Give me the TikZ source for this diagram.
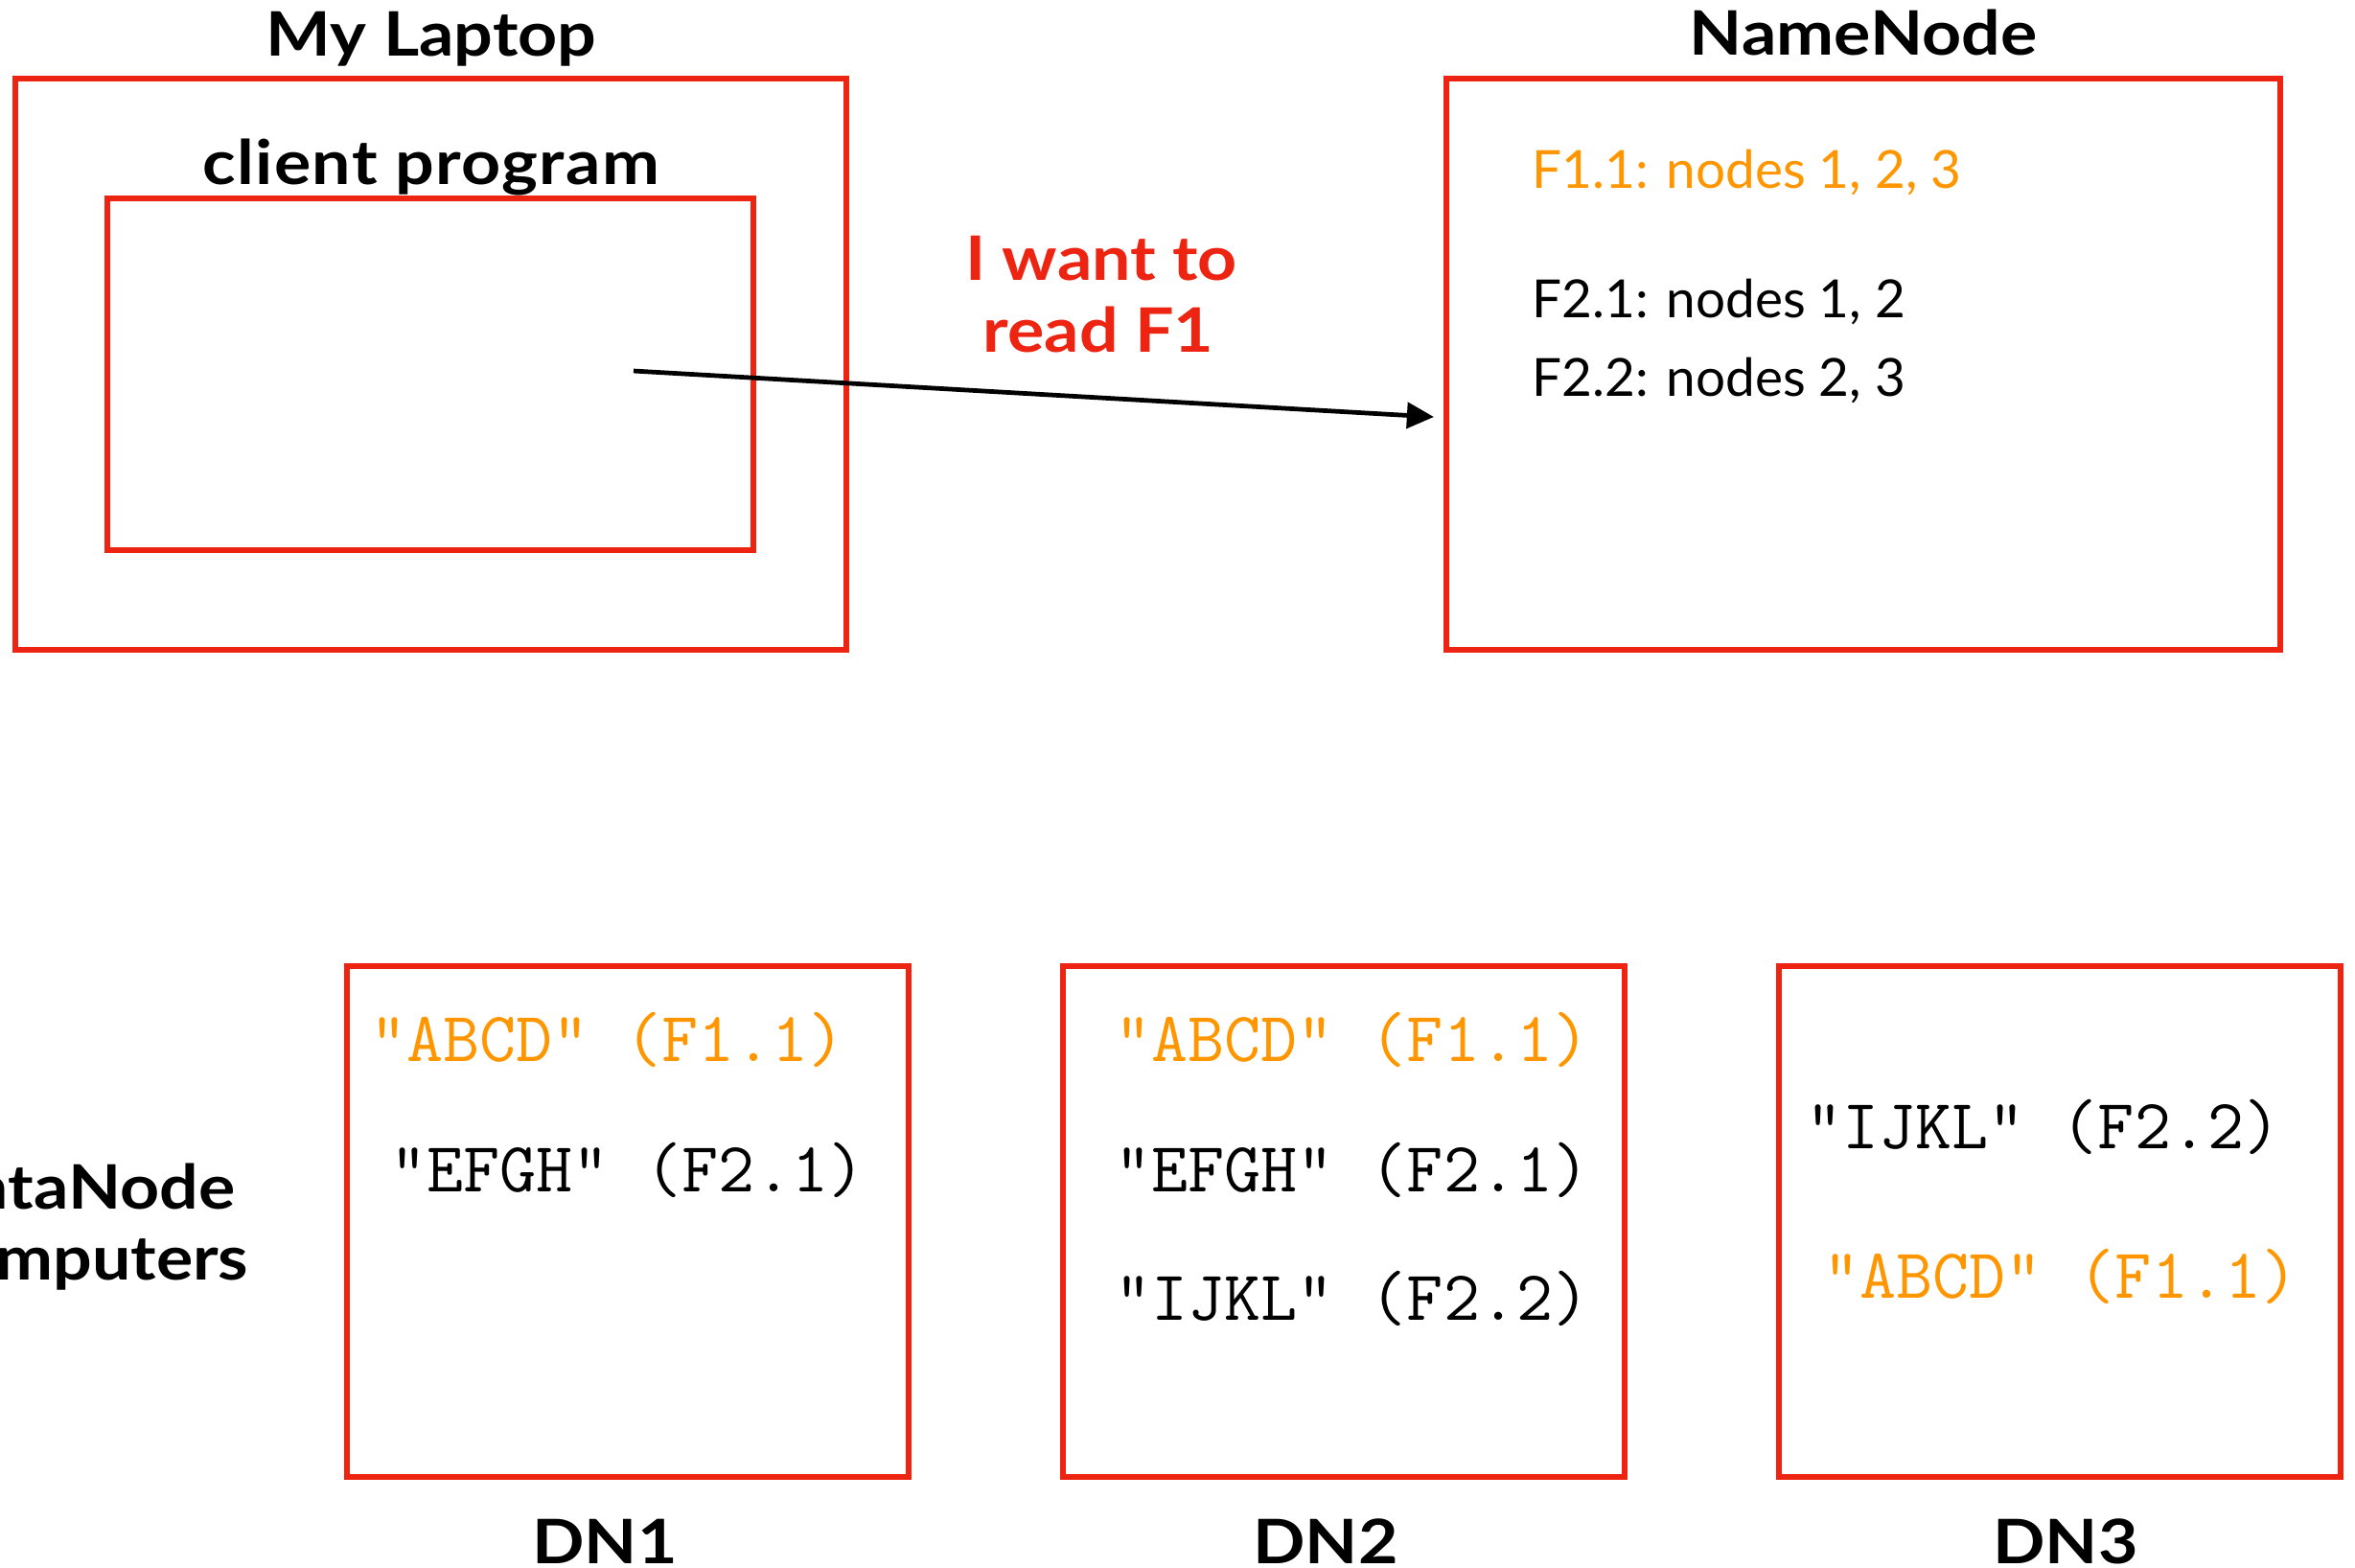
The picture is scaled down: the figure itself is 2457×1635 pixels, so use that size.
\documentclass[tikz,border=0pt]{standalone}
\usepackage{fontspec}
\setmainfont{Lato}
\newfontfamily\titlefont[FakeStretch=1.12]{Lato}
\usetikzlibrary{arrows.meta}
\definecolor{boxred}{RGB}{238,36,18}
\definecolor{hlorange}{RGB}{255,150,0}
\begin{document}
\begin{tikzpicture}[x=0.01cm,y=-0.01cm,
  box/.style={draw=boxred, line width=1.7pt, inner sep=0pt, outer sep=0pt, anchor=north west},
  title/.style={font=\titlefont\bfseries\fontsize{18.2}{21}\selectfont, inner sep=0pt, anchor=base},
  nnline/.style={font=\fontsize{15.6}{18}\selectfont, inner sep=0pt, anchor=base west},
  dnline/.style={font=\ttfamily\fontsize{21}{24}\selectfont, inner sep=0pt, anchor=base west},
  reqarrow/.style={-{Triangle[length=8pt,width=7.6pt]}, line width=1.35pt}
]
\useasboundingbox (0,0) rectangle (2457,1635);

% Laptop
\node[box, minimum width=8.66cm, minimum height=5.96cm] (laptop) at (16,82) {};
\node[box, minimum width=6.74cm, minimum height=3.67cm] (client) at (112,207) {};
\node[title] (laptoptitle) at (450,58) {My Laptop};
\node[title] (clienttitle) at (450,192) {\addfontfeature{LetterSpace=2}client program};

% NameNode
\node[box, minimum width=8.69cm, minimum height=5.96cm] (namenode) at (1509,82) {};
\node[title] (nntitle) at (1944,57) {NameNode};
\node[nnline, text=hlorange] (nn1) at (1598,196) {F1.1: nodes 1, 2, 3};
\node[nnline] (nn2) at (1598,331) {F2.1: nodes 1, 2};
\node[nnline] (nn3) at (1598,413) {F2.2: nodes 2, 3};

% request
\node[title, text=boxred] (want1) at (1149,292) {I want to};
\node[title, text=boxred] (want2) at (1146,367) {read F1};
\coordinate (reqstart) at (661,387);
\coordinate (reqend) at (1496,435);
\draw[reqarrow] (reqstart) -- (reqend);

% DataNodes
\node[title, anchor=base east] (dnlabel1) at (246,1261) {DataNode};
\node[title, anchor=base east] (dnlabel2) at (260,1335) {computers};

\node[box, minimum width=5.86cm, minimum height=5.33cm] (dn1) at (362,1008) {};
\node[box, minimum width=5.86cm, minimum height=5.33cm] (dn2) at (1109,1008) {};
\node[box, minimum width=5.86cm, minimum height=5.33cm] (dn3) at (1856,1008) {};

\node[dnline, text=hlorange] (dn1a) at (386,1107) {"ABCD" (F1.1)};
\node[dnline] (dn1b) at (407,1243) {"EFGH" (F2.1)};

\node[dnline, text=hlorange] (dn2a) at (1163,1107) {"ABCD" (F1.1)};
\node[dnline] (dn2b) at (1163,1243) {"EFGH" (F2.1)};
\node[dnline] (dn2c) at (1163,1377) {"IJKL" (F2.2)};

\node[dnline] (dn3a) at (1884,1198) {"IJKL" (F2.2)};
\node[dnline, text=hlorange] (dn3b) at (1902,1354) {"ABCD" (F1.1)};

\node[title] (dn1title) at (631,1631) {DN1};
\node[title] (dn2title) at (1383,1631) {DN2};
\node[title] (dn3title) at (2155,1631) {DN3};
\end{tikzpicture}
\end{document}
